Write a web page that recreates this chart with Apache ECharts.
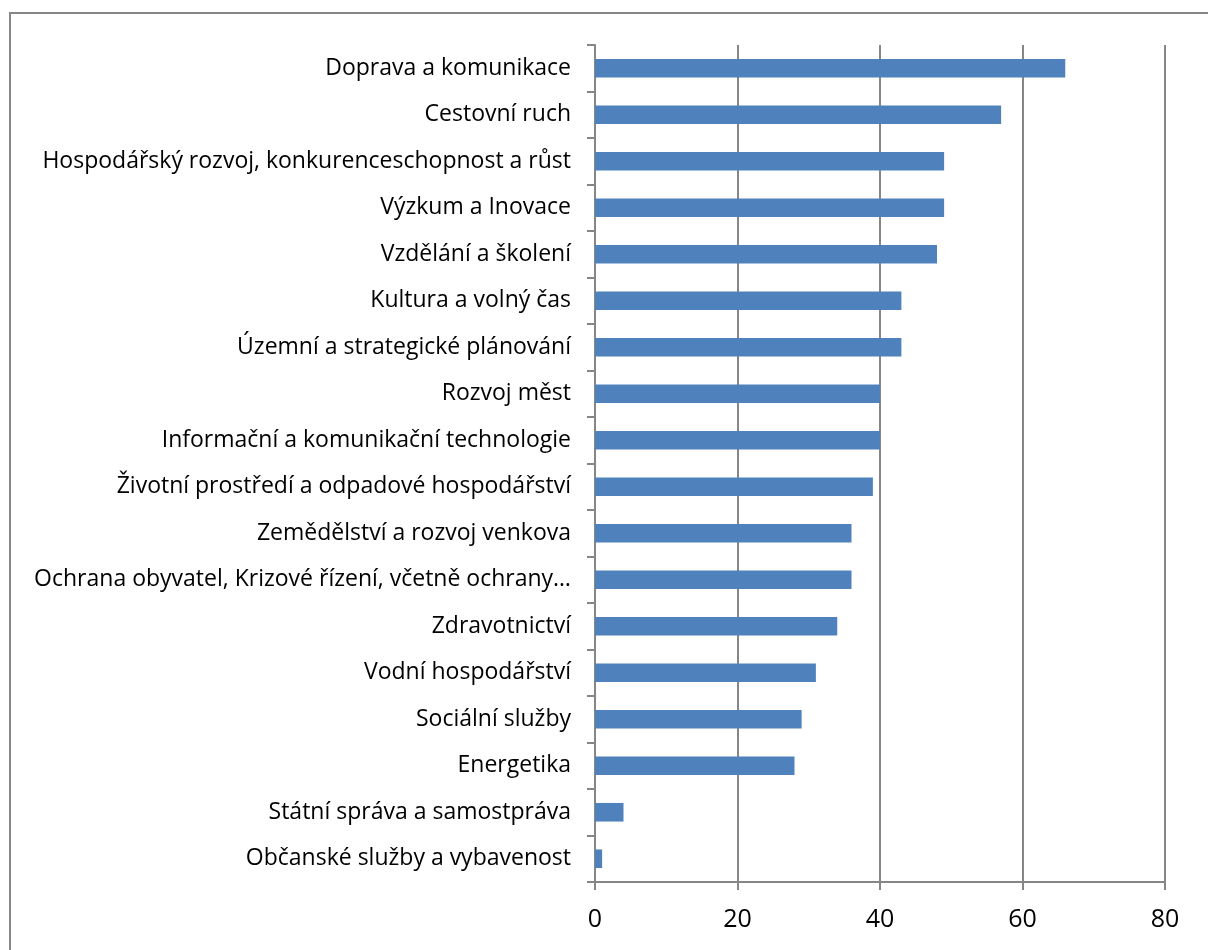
<!DOCTYPE html>
<html>
<head>
<meta charset="utf-8">
<script src="https://cdn.jsdelivr.net/npm/echarts@6/dist/echarts.min.js"></script>
<style>html,body{margin:0;padding:0;background:#fff}#c{width:1208px;height:950px}</style>
</head>
<body>
<div id="c"></div>
<script>
const categories = [
  "Doprava a komunikace",
  "Cestovní ruch",
  "Hospodářský rozvoj, konkurenceschopnost a růst",
  "Výzkum a Inovace",
  "Vzdělání a školení",
  "Kultura a volný čas",
  "Územní a strategické plánování",
  "Rozvoj měst",
  "Informační a komunikační technologie",
  "Životní prostředí a odpadové hospodářství",
  "Zemědělství a rozvoj venkova",
  "Ochrana obyvatel, Krizové řízení, včetně ochrany…",
  "Zdravotnictví",
  "Vodní hospodářství",
  "Sociální služby",
  "Energetika",
  "Státní správa a samostpráva",
  "Občanské služby a vybavenost"
];
const values = [66, 57, 49, 49, 48, 43, 43, 40, 40, 39, 36, 36, 34, 31, 29, 28, 4, 1];
const xTicks = [0, 20, 40, 60, 80];

const chart = echarts.init(document.getElementById('c'), null, {renderer: 'canvas'});
const gray = '#868686';
const font = '"Open Sans", "Liberation Sans", sans-serif';
chart.setOption({
  animation: false,
  backgroundColor: '#ffffff',
  graphic: [{
    type: 'rect',
    shape: {x: 10, y: 13, width: 1400, height: 1200},
    style: {fill: 'none', stroke: gray, lineWidth: 2},
    silent: true
  }],
  grid: {left: 595, right: 43, top: 45, bottom: 68, containLabel: false},
  xAxis: {
    type: 'value',
    min: xTicks[0], max: xTicks[xTicks.length - 1], interval: 20,
    axisLine: {show: true, lineStyle: {color: gray, width: 2}},
    axisTick: {show: true, length: 8, lineStyle: {color: gray, width: 2}},
    splitLine: {show: true, lineStyle: {color: gray, width: 2}},
    axisLabel: {color: '#000', fontSize: 25, fontFamily: font, margin: 25,
      formatter: v => xTicks.includes(v) ? String(v) : ''}
  },
  yAxis: {
    type: 'category',
    inverse: true,
    data: categories,
    axisLine: {show: true, lineStyle: {color: gray, width: 2}},
    axisTick: {show: true, length: 8, alignWithLabel: false, lineStyle: {color: gray, width: 2}},
    axisLabel: {color: '#000', fontSize: 23, fontFamily: font, margin: 24}
  },
  series: [{
    type: 'bar',
    data: values,
    barCategoryGap: '60%',
    itemStyle: {color: '#4F81BD'}
  }]
});
</script>
</body>
</html>
